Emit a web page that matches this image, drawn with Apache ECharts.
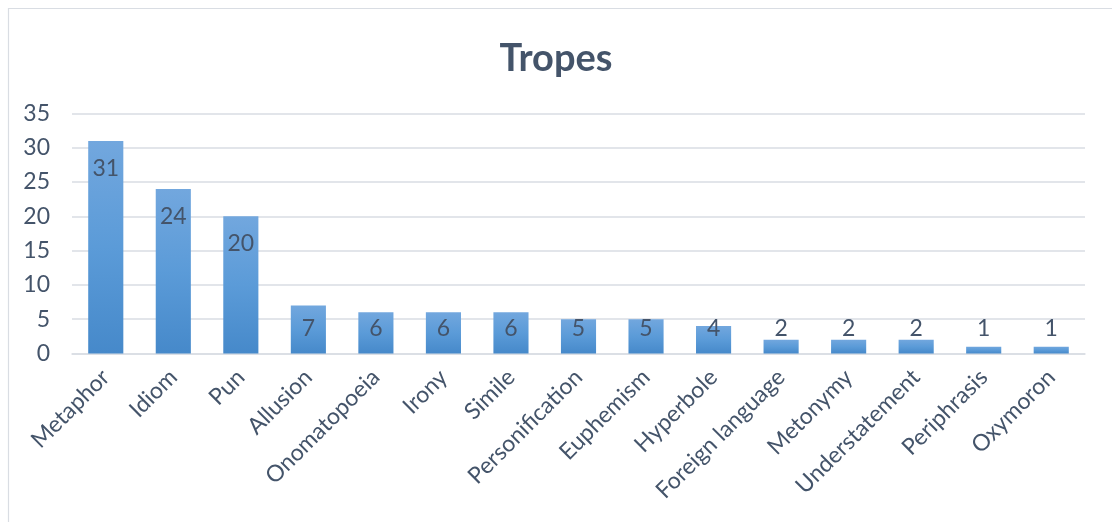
<!DOCTYPE html>
<html>
<head>
<meta charset="utf-8">
<script src="https://cdn.jsdelivr.net/npm/echarts@6/dist/echarts.min.js"></script>
<style>
html,body{margin:0;padding:0;background:#fff;}
#chart{width:1112px;height:522px;}
</style>
</head>
<body>
<div id="chart"></div>
<script>
const titleText = 'Tropes';
const categories = ['Metaphor','Idiom','Pun','Allusion','Onomatopoeia','Irony','Simile','Personification','Euphemism','Hyperbole','Foreign language','Metonymy','Understatement','Periphrasis','Oxymoron'];
const values = [31,24,20,7,6,6,6,5,5,4,2,2,2,1,1];
const yTicks = [0,5,10,15,20,25,30,35];

const textColor = '#44546A';
const fontFam = 'Lato, "Open Sans", sans-serif';

const chart = echarts.init(document.getElementById('chart'), null, {renderer:'canvas'});

const data = values.map(v => ({
  value: v,
  label: v >= 8 ? {position:'insideTop', distance:16} : {position:'insideBottom', distance:13}
}));

chart.setOption({
  backgroundColor:'#fff',
  animation:false,
  title:{
    text:titleText,
    left:'center',
    top:35,
    textStyle:{color:textColor, fontFamily:fontFam, fontWeight:'bold', fontSize:38}
  },
  graphic:[{
    type:'rect',
    shape:{x:8.5, y:8.5, width:1200, height:700},
    style:{fill:'none', stroke:'#d9dde3', lineWidth:1.2},
    silent:true
  }],
  grid:{left:72, right:27, top:113.5, bottom:168.5, containLabel:false},
  xAxis:{
    type:'category',
    data:categories,
    axisTick:{show:false},
    axisLine:{lineStyle:{color:'#d9dde3', width:1.5}},
    axisLabel:{
      interval:0, rotate:45, margin:20,
      color:textColor, fontFamily:fontFam, fontSize:23
    }
  },
  yAxis:{
    type:'value',
    min:yTicks[0], max:yTicks[yTicks.length-1], interval:5,
    axisLine:{show:false},
    axisTick:{show:false},
    splitLine:{lineStyle:{color:'#d9dde3', width:1.5}},
    axisLabel:{margin:22, color:textColor, fontFamily:fontFam, fontSize:23}
  },
  series:[{
    type:'bar',
    data:data,
    barCategoryGap:'48%',
    itemStyle:{
      color:new echarts.graphic.LinearGradient(0,0,0,1,[
        {offset:0, color:'#72a7de'},
        {offset:0.5, color:'#5b9bd8'},
        {offset:1, color:'#4689ca'}
      ])
    },
    label:{show:true, color:textColor, fontFamily:fontFam, fontSize:23}
  }]
});
</script>
</body>
</html>
